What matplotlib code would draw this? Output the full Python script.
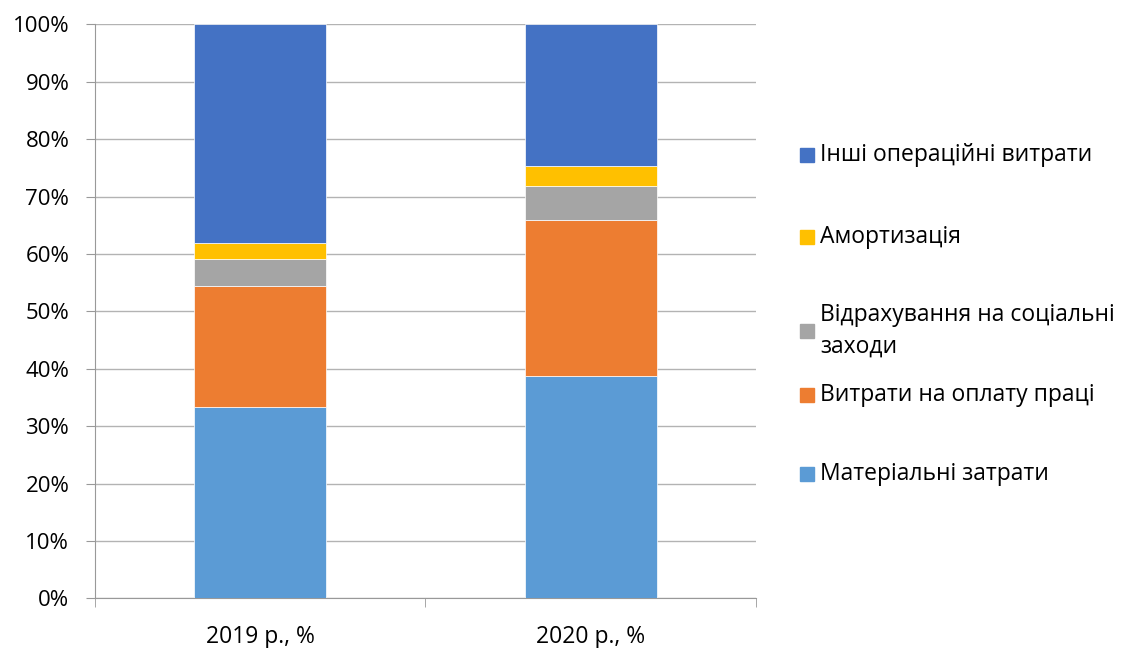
import numpy as np
import matplotlib.pyplot as plt
from matplotlib.patches import Rectangle
from matplotlib.ticker import PercentFormatter

plt.rcParams['font.family'] = ['Open Sans', 'DejaVu Sans']

# categories and shares (%)
years = ["2019 р., %", "2020 р., %"]
material = [33.4, 38.8]
labor = [21.0, 27.1]
social = [4.7, 6.0]
amort = [2.9, 3.4]
other = [38.0, 24.7]

series = [
    ("Матеріальні затрати", material, "#5B9BD5"),
    ("Витрати на оплату праці", labor, "#ED7D31"),
    ("Відрахування на соціальні\nзаходи", social, "#A5A5A5"),
    ("Амортизація", amort, "#FFC000"),
    ("Інші операційні витрати", other, "#4472C4"),
]

fig = plt.figure(figsize=(11.25, 6.48), dpi=100)
ax = fig.add_axes([0.0844, 0.0764, 0.5876, 0.8858])

x = np.arange(len(years))
bottom = np.zeros(len(years))
for name, vals, color in series:
    ax.bar(x, vals, 0.4, bottom=bottom, color=color, edgecolor="white",
           linewidth=0.5, zorder=3)
    bottom += np.array(vals)

ax.set_xlim(-0.5, 1.5)
ax.set_ylim(0, 100)
ax.set_yticks(np.arange(0, 101, 10))
ax.yaxis.set_major_formatter(PercentFormatter(decimals=0))
ax.grid(axis="y", color="#b3b3b3", linewidth=1, zorder=0)

ax.set_xticks(x)
ax.set_xticklabels(years)
ax.set_xticks([-0.5, 0.5, 1.5], minor=True)
ax.tick_params(axis="x", which="major", length=0, pad=19, labelsize=16.5)
ax.tick_params(axis="x", which="minor", length=6.5, color="#999999")
ax.tick_params(axis="y", length=6.5, color="#999999", pad=12, labelsize=16)

for side in ["top", "right"]:
    ax.spines[side].set_visible(False)
for side in ["left", "bottom"]:
    ax.spines[side].set_color("#999999")

# legend, laid out by hand like the Excel original
leg_y = [155, 237, 331, 395, 474]
for (name, vals, color), yp in zip(series[::-1], leg_y):
    yf = 1 - yp / 648
    fig.add_artist(Rectangle((800 / 1125, yf - 7 / 648), 14 / 1125, 14 / 648,
                             transform=fig.transFigure, color=color))
    fig.text(820 / 1125, yf, name, fontsize=16.5, va="center", ha="left",
             linespacing=1.4)

fig.savefig("out.png", dpi=100)
